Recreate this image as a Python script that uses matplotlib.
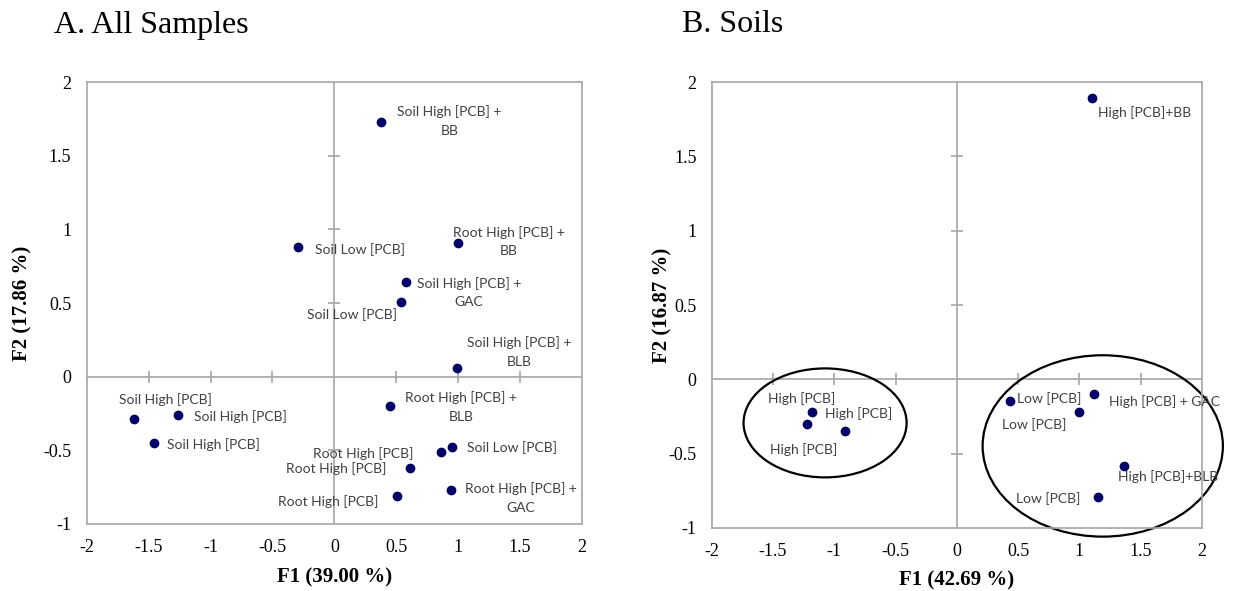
import matplotlib
matplotlib.use('Agg')
import matplotlib.pyplot as plt
from matplotlib.patches import Ellipse

plt.rcParams['axes.unicode_minus'] = False

# panel A: all samples
a_x = [0.38, -0.29, 1.00, 0.58, 0.54, 0.99, 0.45, -1.62, -1.26, -1.46, 0.86, 0.95, 0.61, 0.51, 0.94]
a_y = [1.73, 0.88, 0.91, 0.64, 0.505, 0.06, -0.20, -0.29, -0.26, -0.45, -0.51, -0.48, -0.62, -0.81, -0.77]
a_labels = ['Soil High [PCB] +\nBB', 'Soil Low [PCB]', 'Root High [PCB] +\nBB', 'Soil High [PCB] +\nGAC',
            'Soil Low [PCB]', 'Soil High [PCB] +\nBLB', 'Root High [PCB] +\nBLB', 'Soil High [PCB]',
            'Soil High [PCB]', 'Soil High [PCB]', 'Root High [PCB]', 'Soil Low [PCB]',
            'Root High [PCB]', 'Root High [PCB]', 'Root High [PCB] +\nGAC']
# label offsets in pixels (dx right, dy up), text centred
a_off = [(68, 1), (62, -2), (51, 1), (63, -10), (-49, -12), (62, 16), (71, -1), (32, 20),
         (62, -2), (60, -2), (-78, -2), (60, 0), (-74, -1), (-69, -6), (70, -8)]

# panel B: soils
b_x = [1.10, -1.18, -1.22, -0.91, 0.43, 1.12, 1.00, 1.36, 1.15]
b_y = [1.89, -0.22, -0.30, -0.35, -0.146, -0.097, -0.22, -0.585, -0.79]
b_labels = ['High [PCB]+BB', 'High [PCB]', 'High [PCB]', 'High [PCB]', 'Low [PCB]',
            'High [PCB] + GAC', 'Low [PCB]', 'High [PCB]+BLB', 'Low [PCB]']
b_off = [(53, -14), (-11, 14), (-4, -26), (13, 18), (40, 2), (70, -8), (-45, -13), (45, -10), (-50, -2)]

# group ellipses (centre x, centre y, width, height)
ell_cx = [-1.075, 1.19]
ell_cy = [-0.293, -0.448]
ell_w = [1.33, 1.96]
ell_h = [0.733, 1.22]

fig = plt.figure(figsize=(12.33, 5.91), dpi=100)
ax1 = fig.add_axes([0.0703, 0.1134, 0.4017, 0.7476])
ax2 = fig.add_axes([0.5772, 0.1066, 0.3977, 0.7546])

grey = '#a6a6a6'
dot = '#000066'
tick_vals_x = [-2, -1.5, -1, -0.5, 0, 0.5, 1, 1.5, 2]
tick_vals_y = [-1, -0.5, 0, 0.5, 1, 1.5, 2]


def setup(ax, xlab, ylab, xl_y, yl_x):
    ax.set_xlim(-2, 2)
    ax.set_ylim(-1, 2)
    ax.set_xticks(tick_vals_x)
    ax.set_yticks(tick_vals_y)
    ax.set_xticklabels(['{:g}'.format(v) for v in tick_vals_x], family='Liberation Serif', fontsize=13)
    ax.set_yticklabels(['{:g}'.format(v) for v in tick_vals_y], family='Liberation Serif', fontsize=13)
    ax.tick_params(length=0, pad=11)
    for s in ax.spines.values():
        s.set_color(grey)
        s.set_linewidth(1.2)
    ax.axhline(0, color=grey, lw=1.2, zorder=1)
    ax.axvline(0, color=grey, lw=1.2, zorder=1)
    # cross ticks on the zero lines
    tx = [v for v in tick_vals_x if v not in (-2, 0, 2)]
    ty = [v for v in tick_vals_y if v not in (-1, 0, 2)]
    ax.plot(tx, [0] * len(tx), linestyle='none', marker='|', color=grey, markersize=8.5, mew=1.2, zorder=1)
    ax.plot([0] * len(ty), ty, linestyle='none', marker='_', color=grey, markersize=8.5, mew=1.2, zorder=1)
    ax.set_xlabel(xlab, family='Liberation Serif', fontsize=15, fontweight='bold', va='center')
    ax.set_ylabel(ylab, family='Liberation Serif', fontsize=15, fontweight='bold', va='center')
    ax.xaxis.set_label_coords(0.5, xl_y)
    ax.yaxis.set_label_coords(yl_x, 0.5)


def points(ax, xs, ys, labels, offs):
    ax.plot(xs, ys, linestyle='none', marker='o', color=dot, markersize=6, zorder=3)
    for x, y, lab, (dx, dy) in zip(xs, ys, labels, offs):
        ax.annotate(lab, (x, y), xytext=(dx * 0.72, dy * 0.72), textcoords='offset points',
                    ha='center', va='center', fontsize=10, family='Lato', color='#404040',
                    linespacing=1.65, annotation_clip=False, zorder=4)


setup(ax1, 'F1 (39.00 %)', 'F2 (17.86 %)', -0.122, -0.129)
points(ax1, a_x, a_y, a_labels, a_off)

setup(ax2, 'F1 (42.69 %)', 'F2 (16.87 %)', -0.117, -0.101)
points(ax2, b_x, b_y, b_labels, b_off)
for cx, cy, w, h in zip(ell_cx, ell_cy, ell_w, ell_h):
    ax2.add_patch(Ellipse((cx, cy), w, h, fill=False, edgecolor='black', lw=1.6, clip_on=False, zorder=2))

fig.text(54 / 1233, 1 - 25 / 591, 'A. All Samples', family='Liberation Serif', fontsize=23, va='center', ha='left')
fig.text(682 / 1233, 1 - 25 / 591, 'B. Soils', family='Liberation Serif', fontsize=23, va='center', ha='left')

fig.savefig('out.png', dpi=100)
